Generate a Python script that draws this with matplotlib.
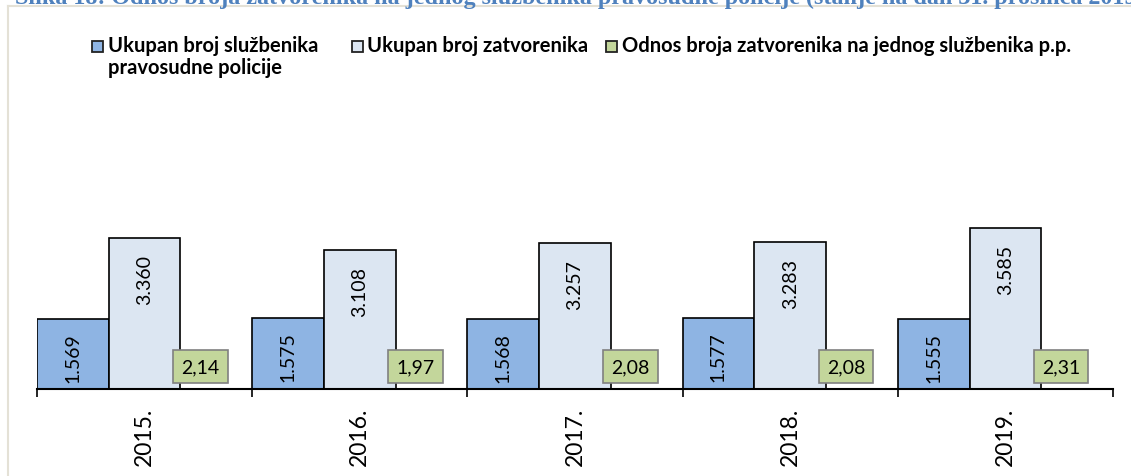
import numpy as np
import matplotlib.pyplot as plt
from matplotlib.patches import Rectangle
from matplotlib.lines import Line2D

# data
years = ['2015.', '2016.', '2017.', '2018.', '2019.']
officers = [1569, 1575, 1568, 1577, 1555]
prisoners = [3360, 3108, 3257, 3283, 3585]
ratio = [2.14, 1.97, 2.08, 2.08, 2.31]

legend_labels = ['Ukupan broj službenika\npravosudne policije',
                 'Ukupan broj zatvorenika',
                 'Odnos broja zatvorenika na jednog službenika p.p.']
title = ('Slika 18: Odnos broja zatvorenika na jednog službenika pravosudne '
         'policije (stanje na dan 31. prosinca 2019.)')

c_blue = '#8EB4E3'
c_light = '#DCE6F2'
c_green = '#C3D69B'

W, H = 1131, 477
fig = plt.figure(figsize=(W / 100, H / 100), dpi=100)
fig.patch.set_facecolor('white')

# chart frame (left and top border)
fig.add_artist(Line2D([7.5 / W, 7.5 / W], [0, 1 - 7 / H], color='#E4E1D6', lw=1.5))
fig.add_artist(Line2D([7.5 / W, 1], [1 - 7 / H, 1 - 7 / H], color='#E4E1D6', lw=1.5))

# caption cut off at the top, as in the source page
fig.text(15 / W, 1 - 4 / H, title, family='Liberation Serif', weight='bold',
         fontsize=17.4, color='#4F81BD', va='baseline', ha='left')

ax = fig.add_axes([37 / W, 87 / H, 1076 / W, 314 / H])
ax.set_facecolor('none')

x = np.arange(len(years))
w = 1 / 3
b1 = ax.bar(x - w, officers, w, color=c_blue, edgecolor='black', lw=1.2)
b2 = ax.bar(x, prisoners, w, color=c_light, edgecolor='black', lw=1.2)
b3 = ax.bar(x + w, ratio, w, color=c_green, edgecolor='black', lw=1.2)

ax.set_xlim(-0.5, len(years) - 0.5)
ax.set_ylim(0, 7000)

for bars, vals, off in [(b1, officers, -9.5), (b2, prisoners, -11.5)]:
    for r, v in zip(bars, vals):
        ax.annotate(f'{v:,}'.replace(',', '.'),
                    (r.get_x() + r.get_width() / 2, v),
                    xytext=(0, off), textcoords='offset points',
                    rotation=90, ha='center', va='top',
                    family='Lato', fontsize=14)

for r, v in zip(b3, ratio):
    ax.annotate(f'{v:.2f}'.replace('.', ','),
                (r.get_x() + r.get_width() / 2, v),
                xytext=(-11.5, 16), textcoords='offset points',
                ha='center', va='center', family='Lato', fontsize=14,
                bbox=dict(boxstyle='square,pad=0.42', fc=c_green,
                          ec='#808080', lw=1.2))

for s in ['left', 'right', 'top']:
    ax.spines[s].set_visible(False)
ax.spines['bottom'].set_linewidth(1.5)
ax.set_yticks([])
ax.set_xticks(x)
ax.set_xticklabels(years, rotation=90, family='Lato', fontsize=16.5)
ax.tick_params(axis='x', which='major', length=0, pad=13)
ax.set_xticks(np.arange(-0.5, len(years)), minor=True)
ax.tick_params(axis='x', which='minor', length=6, width=1.2)

# legend drawn by hand so the square lines up with the first text line
entries = [(92, 108, c_blue), (352, 367, c_light), (606, 622, c_green)]
for (sq_x, tx_x, col), lab in zip(entries, legend_labels):
    fig.add_artist(Rectangle((sq_x / W, 1 - 53 / H), 11 / W, 11 / H,
                             transform=fig.transFigure, fc=col,
                             ec='#222222', lw=1.3))
    lines = lab.split('\n')
    for i, line in enumerate(lines):
        fig.text(tx_x / W, 1 - (52 + 22 * i) / H, line, family='Lato',
                 weight='bold', fontsize=14.5, va='baseline', ha='left')

fig.savefig('out.png', dpi=100)
